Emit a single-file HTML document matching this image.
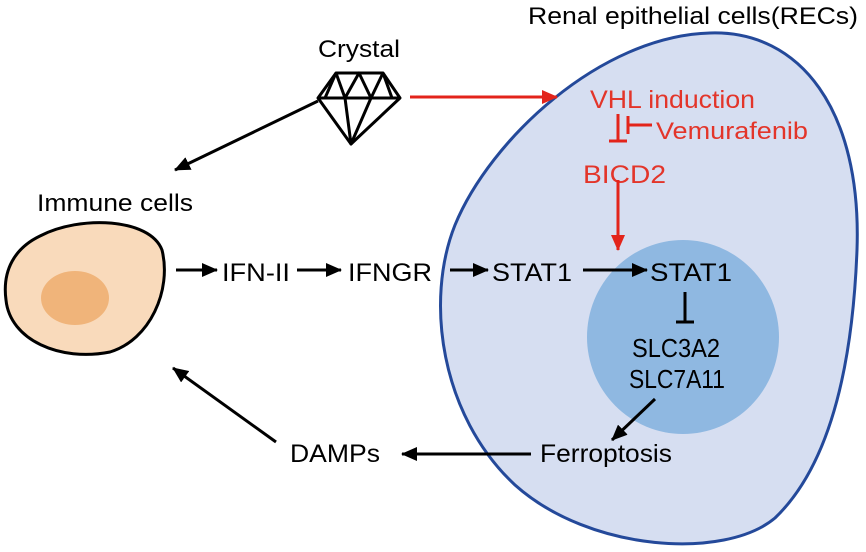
<!DOCTYPE html>
<html><head><meta charset="utf-8"><style>
html,body{margin:0;padding:0;background:#fff;}
svg{display:block;}
text{font-family:"Liberation Sans",sans-serif;}
</style></head><body>
<svg width="866" height="552" viewBox="0 0 866 552" xmlns="http://www.w3.org/2000/svg">
<defs>
<marker id="ab" markerWidth="16" markerHeight="14" refX="15" refY="7" orient="auto" markerUnits="userSpaceOnUse" viewBox="0 0 16 14"><path d="M0,0 L16,7 L0,14 Z" fill="#000"/></marker>
<marker id="ar" markerWidth="16" markerHeight="14" refX="15" refY="7" orient="auto" markerUnits="userSpaceOnUse" viewBox="0 0 16 14"><path d="M0,0 L16,7 L0,14 Z" fill="#e3241b"/></marker>
</defs>
<path d="M 710,33 C 800,30 862,110 857,250 C 852,380 825,470 775,518 C 725,560 590,552 515,485 C 440,415 425,300 455,225 C 490,140 600,36 710,33 Z" fill="#d6def1" stroke="#24499a" stroke-width="3"/>
<ellipse cx="683" cy="337" rx="96" ry="97" fill="#8fb8e1"/>
<path d="M 40,236 C 80,215 150,218 162,250 C 172,290 150,340 110,352 C 60,362 10,340 6,300 C 2,270 15,248 40,236 Z" fill="#f9dabb" stroke="#000" stroke-width="3"/>
<ellipse cx="75" cy="298" rx="34" ry="27" fill="#f0b47a"/>
<g fill="none" stroke="#000" stroke-width="3" stroke-linejoin="round">
<path d="M336,73 L383,73 L400,98 L351,144 L318,98 Z"/>
<path d="M318,98 L400,98"/>
<path d="M336,73 L345,98 L359,73 L371,98 L383,73"/>
<path d="M336,73 L325,98 M383,73 L392,98"/>
<path d="M345,98 L351,144 L371,98"/>
</g>
<text x="528" y="24" font-size="24" textLength="330" lengthAdjust="spacingAndGlyphs">Renal epithelial cells(RECs)</text>
<text x="318" y="57" font-size="24" textLength="82" lengthAdjust="spacingAndGlyphs">Crystal</text>
<text x="37" y="211" font-size="24" textLength="156" lengthAdjust="spacingAndGlyphs">Immune cells</text>
<g fill="#e3352a" font-size="25">
<text x="590" y="108" textLength="165" lengthAdjust="spacingAndGlyphs">VHL induction</text>
<text x="656" y="139" font-size="24" textLength="152" lengthAdjust="spacingAndGlyphs">Vemurafenib</text>
<text x="583" y="183" textLength="83" lengthAdjust="spacingAndGlyphs">BICD2</text>
</g>
<g font-size="25">
<text x="222" y="281" textLength="68" lengthAdjust="spacingAndGlyphs">IFN-II</text>
<text x="348" y="281" textLength="84" lengthAdjust="spacingAndGlyphs">IFNGR</text>
<text x="492" y="281" textLength="80" lengthAdjust="spacingAndGlyphs">STAT1</text>
<text x="650" y="281" textLength="82" lengthAdjust="spacingAndGlyphs">STAT1</text>
<text x="632" y="357" font-size="26" textLength="88" lengthAdjust="spacingAndGlyphs">SLC3A2</text>
<text x="629" y="388" font-size="26" textLength="96" lengthAdjust="spacingAndGlyphs">SLC7A11</text>
<text x="540" y="462" textLength="132" lengthAdjust="spacingAndGlyphs">Ferroptosis</text>
<text x="290" y="462" textLength="90" lengthAdjust="spacingAndGlyphs">DAMPs</text>
</g>
<g stroke="#e3241b" stroke-width="3">
<line x1="410" y1="97" x2="557" y2="97" marker-end="url(#ar)"/>
<line x1="618" y1="114" x2="618" y2="141"/>
<line x1="609" y1="141" x2="627" y2="141"/>
<line x1="652" y1="125" x2="628" y2="125"/>
<line x1="628" y1="116" x2="628" y2="134"/>
<line x1="618" y1="180" x2="618" y2="250" marker-end="url(#ar)"/>
</g>
<g stroke="#000" stroke-width="3">
<line x1="318" y1="101" x2="175" y2="170" marker-end="url(#ab)"/>
<line x1="176" y1="270" x2="217" y2="270" marker-end="url(#ab)"/>
<line x1="297" y1="270" x2="341" y2="270" marker-end="url(#ab)"/>
<line x1="450" y1="270" x2="488" y2="270" marker-end="url(#ab)"/>
<line x1="583" y1="270" x2="647" y2="270" marker-end="url(#ab)"/>
<line x1="685" y1="292" x2="685" y2="322"/>
<line x1="676" y1="322" x2="694" y2="322"/>
<line x1="655" y1="399" x2="612" y2="440" marker-end="url(#ab)"/>
<line x1="531" y1="454" x2="402" y2="454" marker-end="url(#ab)"/>
<line x1="276" y1="442" x2="173" y2="368" marker-end="url(#ab)"/>
</g>
</svg>
</body></html>
